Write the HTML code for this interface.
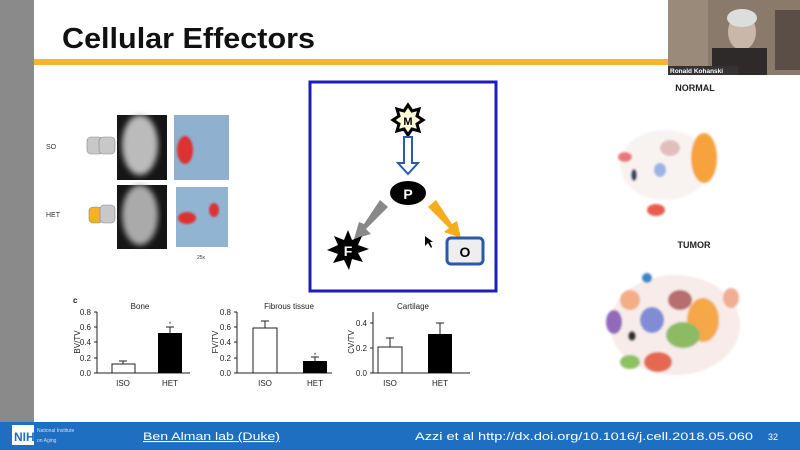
<!DOCTYPE html><html><head><style>body{margin:0}svg{display:block}text{font-family:"Liberation Sans",sans-serif}</style></head><body>
<svg width="800" height="450" viewBox="0 0 800 450">
<defs><filter id="b"><feGaussianBlur stdDeviation="3"/></filter><filter id="b2"><feGaussianBlur stdDeviation="1"/></filter></defs>
<rect width="800" height="450" fill="#fff"/>
<rect x="0" y="0" width="34" height="450" fill="#8a8a8a"/>
<text x="62" y="48" font-size="29" font-weight="bold" fill="#111" textLength="253" lengthAdjust="spacingAndGlyphs">Cellular Effectors</text>
<rect x="34" y="59" width="634" height="6" fill="#f5b52e"/>
<!-- webcam -->
<rect x="668" y="0" width="132" height="75" fill="#8a7a6c"/>
<rect x="668" y="0" width="40" height="75" fill="#9a8a7a"/>
<rect x="775" y="10" width="25" height="60" fill="#5a4e46"/>
<ellipse cx="742" cy="32" rx="14" ry="18" fill="#c9b8a8"/>
<ellipse cx="742" cy="18" rx="15" ry="9" fill="#ddd"/>
<rect x="712" y="48" width="55" height="27" fill="#2e2a2a"/>
<rect x="668" y="66" width="70" height="9" fill="#333"/>
<text x="670" y="73" font-size="6.5" fill="#fff" font-weight="bold">Ronald Kohanski</text>
<!-- left images -->
<text x="46" y="149" font-size="7" fill="#333">SO</text>
<text x="46" y="217" font-size="7" fill="#333">HET</text>
<rect x="87" y="137" width="16" height="17" rx="4" fill="#c8c8c8" stroke="#888" stroke-width=".6"/>
<rect x="99" y="137" width="16" height="17" rx="4" fill="#c8c8c8" stroke="#888" stroke-width=".6"/>
<rect x="89" y="207" width="13" height="16" rx="4" fill="#f3b21f" stroke="#888" stroke-width=".6"/>
<rect x="100" y="205" width="15" height="18" rx="4" fill="#c8c8c8" stroke="#888" stroke-width=".6"/>
<rect x="117" y="115" width="50" height="65" fill="#151515"/>
<rect x="117" y="185" width="50" height="64" fill="#151515"/>
<ellipse cx="140" cy="145" rx="18" ry="30" fill="#bbb" filter="url(#b)"/>
<ellipse cx="140" cy="215" rx="18" ry="30" fill="#aaa" filter="url(#b)"/>
<rect x="174" y="115" width="55" height="65" fill="#8fb0cf"/>
<rect x="176" y="187" width="52" height="60" fill="#92b4d3"/>
<ellipse cx="185" cy="150" rx="8" ry="14" fill="#d33" filter="url(#b2)"/>
<ellipse cx="187" cy="218" rx="9" ry="6" fill="#d33" filter="url(#b2)"/>
<ellipse cx="214" cy="210" rx="5" ry="7" fill="#d33" filter="url(#b2)"/>
<text x="197" y="259" font-size="5" fill="#333">25x</text>
<!-- diagram -->
<rect x="310" y="82" width="186" height="209" fill="#fff" stroke="#1d1db8" stroke-width="3"/>
<polygon points="408,105 412,111 419,109 417,116 423,120 417,124 419,131 412,129 408,135 404,129 397,131 399,124 393,120 399,116 397,109 404,111" fill="#fffbd8" stroke="#000" stroke-width="3"/>
<text x="408" y="125" font-size="11" font-weight="bold" text-anchor="middle">M</text>
<polygon points="404,137 412,137 412,163 418,163 408,174 398,163 404,163" fill="#fff" stroke="#2b5aa8" stroke-width="2"/>
<ellipse cx="408" cy="193" rx="18" ry="12" fill="#000"/>
<text x="408" y="199" font-size="14" font-weight="bold" fill="#fff" text-anchor="middle">P</text>
<polygon points="380,200 388,207 366,229 371,234 354,239 359,222 364,224" fill="#888"/>
<polygon points="436,200 428,207 449,228 444,232 461,238 457,221 452,224" fill="#f5ad1b"/>
<polygon points="348,230 352,240 362,236 358,245 369,249 358,253 363,262 352,259 349,270 344,260 333,263 338,254 327,250 338,245 334,236 344,240" fill="#000"/>
<text x="348" y="256" font-size="14" font-weight="bold" fill="#fff" text-anchor="middle">F</text>
<rect x="447" y="238" width="36" height="26" rx="4" fill="#eee" stroke="#2b5aa8" stroke-width="3"/>
<text x="465" y="257" font-size="14" font-weight="bold" text-anchor="middle">O</text>
<polygon points="425,236 425,246 428,243 431,248 432,247 430,242 433,242" fill="#000"/>
<!-- charts -->
<g font-size="8" fill="#222" stroke-width="1">
<text x="73" y="303" font-size="8" font-weight="bold">c</text>
<text x="140" y="309" text-anchor="middle">Bone</text>
<text x="289" y="309" text-anchor="middle">Fibrous tissue</text>
<text x="413" y="309" text-anchor="middle">Cartilage</text>
<path d="M97 312V373H190M94 312H97M94 327H97M94 342H97M94 358H97M94 373H97" stroke="#222" fill="none"/>
<text x="91" y="315" text-anchor="end">0.8</text><text x="91" y="330" text-anchor="end">0.6</text><text x="91" y="345" text-anchor="end">0.4</text><text x="91" y="361" text-anchor="end">0.2</text><text x="91" y="376" text-anchor="end">0.0</text>
<text transform="translate(80,342) rotate(-90)" text-anchor="middle">BV/TV</text>
<rect x="112" y="364" width="23" height="9" fill="#fff" stroke="#222"/><path d="M123 364V361M119 361H127" stroke="#222"/>
<rect x="158" y="333" width="24" height="40" fill="#000"/><path d="M170 333V327M166 327H174" stroke="#222"/><text x="170" y="326" text-anchor="middle" font-size="6">*</text>
<text x="123" y="386" text-anchor="middle">ISO</text><text x="170" y="386" text-anchor="middle">HET</text>
<path d="M237 312V373H332M234 312H237M234 327H237M234 342H237M234 358H237M234 373H237" stroke="#222" fill="none"/>
<text x="231" y="315" text-anchor="end">0.8</text><text x="231" y="330" text-anchor="end">0.6</text><text x="231" y="345" text-anchor="end">0.4</text><text x="231" y="361" text-anchor="end">0.2</text><text x="231" y="376" text-anchor="end">0.0</text>
<text transform="translate(218,342) rotate(-90)" text-anchor="middle">FV/TV</text>
<rect x="253" y="328" width="24" height="45" fill="#fff" stroke="#222"/><path d="M265 328V321M261 321H269" stroke="#222"/>
<rect x="303" y="361" width="24" height="12" fill="#000"/><path d="M315 361V357M311 357H319" stroke="#222"/><text x="315" y="357" text-anchor="middle" font-size="6">*</text>
<text x="265" y="386" text-anchor="middle">ISO</text><text x="315" y="386" text-anchor="middle">HET</text>
<path d="M373 312V373H470M370 323H373M370 348H373M370 373H373" stroke="#222" fill="none"/>
<text x="367" y="326" text-anchor="end">0.4</text><text x="367" y="351" text-anchor="end">0.2</text><text x="367" y="376" text-anchor="end">0.0</text>
<text transform="translate(354,342) rotate(-90)" text-anchor="middle">CV/TV</text>
<rect x="378" y="347" width="24" height="26" fill="#fff" stroke="#222"/><path d="M390 347V338M386 338H394" stroke="#222"/>
<rect x="428" y="334" width="24" height="39" fill="#000"/><path d="M440 334V323M436 323H444" stroke="#222"/>
<text x="390" y="386" text-anchor="middle">ISO</text><text x="440" y="386" text-anchor="middle">HET</text>
</g>
<!-- tSNE -->
<text x="695" y="91" font-size="9" font-weight="bold" text-anchor="middle" fill="#222">NORMAL</text>
<text x="694" y="248" font-size="9" font-weight="bold" text-anchor="middle" fill="#222">TUMOR</text>
<g filter="url(#b2)" opacity=".85">
<ellipse cx="665" cy="165" rx="45" ry="35" fill="#f0e4e0" opacity=".5"/>
<ellipse cx="704" cy="158" rx="13" ry="25" fill="#f5921e"/>
<ellipse cx="625" cy="157" rx="7" ry="5" fill="#e86060"/>
<ellipse cx="634" cy="175" rx="3" ry="6" fill="#124"/>
<ellipse cx="660" cy="170" rx="6" ry="7" fill="#8aa8e0"/>
<ellipse cx="656" cy="210" rx="9" ry="6" fill="#e84030"/>
<ellipse cx="670" cy="148" rx="10" ry="8" fill="#c98a8a" opacity=".6"/>
<ellipse cx="675" cy="325" rx="65" ry="50" fill="#ecd6cf" opacity=".55"/>
<ellipse cx="703" cy="320" rx="16" ry="22" fill="#f59a2a"/>
<ellipse cx="683" cy="335" rx="17" ry="13" fill="#79b04a"/>
<ellipse cx="652" cy="320" rx="12" ry="13" fill="#6a7ad0"/>
<ellipse cx="630" cy="300" rx="10" ry="10" fill="#f0a070"/>
<ellipse cx="614" cy="322" rx="8" ry="12" fill="#8050b0"/>
<ellipse cx="630" cy="362" rx="10" ry="7" fill="#7ab845"/>
<ellipse cx="658" cy="362" rx="14" ry="10" fill="#e05030"/>
<ellipse cx="680" cy="300" rx="12" ry="10" fill="#a55"/>
<ellipse cx="647" cy="278" rx="5" ry="5" fill="#1a70c0"/>
<ellipse cx="731" cy="298" rx="8" ry="10" fill="#f0a080"/>
<ellipse cx="632" cy="336" rx="4" ry="5" fill="#111"/>
</g>
<!-- footer -->
<rect x="0" y="422" width="800" height="28" fill="#1e6fc2"/>
<rect x="12" y="425" width="22" height="20" fill="#fff"/>
<text x="14" y="441" font-size="12" font-weight="bold" fill="#1e6fc2">NIH</text>
<text x="37" y="432" font-size="5" fill="#dde">National Institute</text><text x="37" y="442" font-size="5" fill="#dde">on Aging</text>
<text x="143" y="440" font-size="11" fill="#fff" text-decoration="underline" textLength="137" lengthAdjust="spacingAndGlyphs">Ben Alman lab (Duke)</text>
<text x="415" y="440" font-size="11" fill="#fff" textLength="338" lengthAdjust="spacingAndGlyphs">Azzi et al  http://dx.doi.org/10.1016/j.cell.2018.05.060</text>
<text x="768" y="440" font-size="9" fill="#fff">32</text>
</svg></body></html>
